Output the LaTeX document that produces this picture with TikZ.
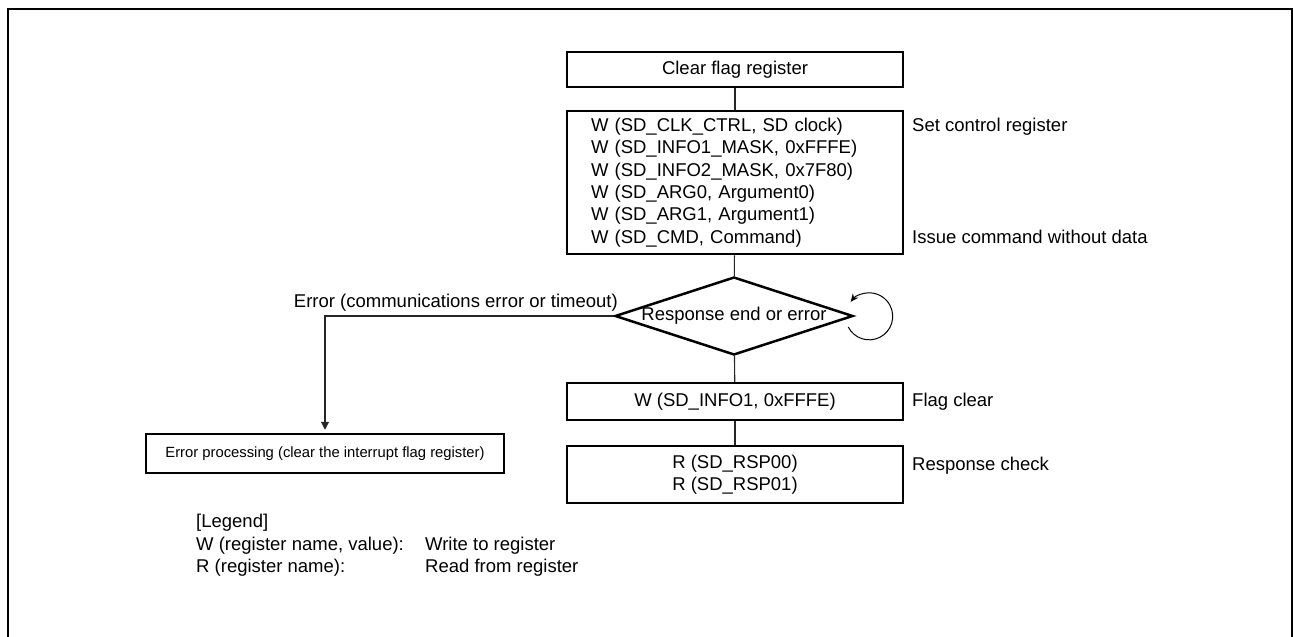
\documentclass[tikz,border=0pt]{standalone}
\usepackage{fontspec}
\setmainfont{Liberation Sans}
\usetikzlibrary{shapes.geometric,arrows.meta}
\tikzset{
  stepbox/.style={draw, line width=2.5pt, minimum width=336pt, inner sep=0pt, align=center,
    font=\fontsize{18.5}{22.4}\selectfont},
  conn/.style={line width=1.1pt, draw=black!85},
  txt/.style={inner sep=0pt, font=\fontsize{18.5}{22.4}\selectfont},
  decision/.style={diamond, draw, line width=2.5pt, inner sep=0pt, minimum width=238pt, minimum height=78pt,
    font=\fontsize{18.5}{22.4}\selectfont},
}
\begin{document}
\begin{tikzpicture}[x=1pt,y=-1pt]
\useasboundingbox (0,0) rectangle (1293,637);
% frame
\draw[line width=2pt] (8,637) -- (8,9) -- (1292,9) -- (1292,637);

\node[stepbox, minimum height=35pt] (clear) at (735,69.5) {Clear flag register};
\node[stepbox, minimum height=143pt, text width=288pt, inner xsep=24pt, align=left] (main) at (735,182.5)
  {W (SD\_CLK\_CTRL, SD clock)\\
   W (SD\_INFO1\_MASK, 0xFFFE)\\
   W (SD\_INFO2\_MASK, 0x7F80)\\
   W (SD\_ARG0, Argument0)\\
   W (SD\_ARG1, Argument1)\\
   W (SD\_CMD, Command)};
\node[decision] (dia) at (734,316) {\makebox[0pt]{Response end or error}};
\node[stepbox, minimum height=37pt] (flag) at (735,401.5) {W (SD\_INFO1, 0xFFFE)};
\node[stepbox, minimum height=57pt] (resp) at (735,474.5) {R (SD\_RSP00)\\R (SD\_RSP01)};
\node[draw, line width=2.5pt, minimum width=358pt, minimum height=39pt, inner sep=0pt,
  font=\fontsize{14.8}{17}\selectfont] (err) at (325,453.5) {Error processing (clear the interrupt flag register)};

% side labels
\node[txt, anchor=west] (l1) at (912,126.5) {Set control register};
\node[txt, anchor=west] (l2) at (912,237) {Issue command without data};
\node[txt, anchor=west] (l3) at (912,402) {Flag clear};
\node[txt, anchor=west] (l4) at (912,466) {Response check};
\node[txt, anchor=east] (elab) at (618,303) {Error (communications error or timeout)};

% connectors
\draw[conn] (clear) -- (main);
\draw[conn] (main) -- (dia);
\draw[conn] (dia) -- (flag);
\draw[conn] (flag) -- (resp);
\draw[conn, -{Triangle[width=8pt,length=8pt]}, shorten >=3pt] (dia.west) -| (err.north);
\draw[line width=1pt, -{Stealth[width=7pt,length=8pt]}] ([xshift=-6pt,yshift=-11pt]dia.east)
  arc[start angle=207, end angle=502, radius=23.5pt];

% legend
\node[txt, anchor=west] (lg0) at (196,523) {[Legend]};
\node[txt, anchor=west] (lg1) at (196,546) {W (register name, value):};
\node[txt, anchor=west] (lg2) at (196,568) {R (register name):};
\node[txt, anchor=west] (lg3) at (425,546) {Write to register};
\node[txt, anchor=west] (lg4) at (425,568) {Read from register};
\end{tikzpicture}
\end{document}
